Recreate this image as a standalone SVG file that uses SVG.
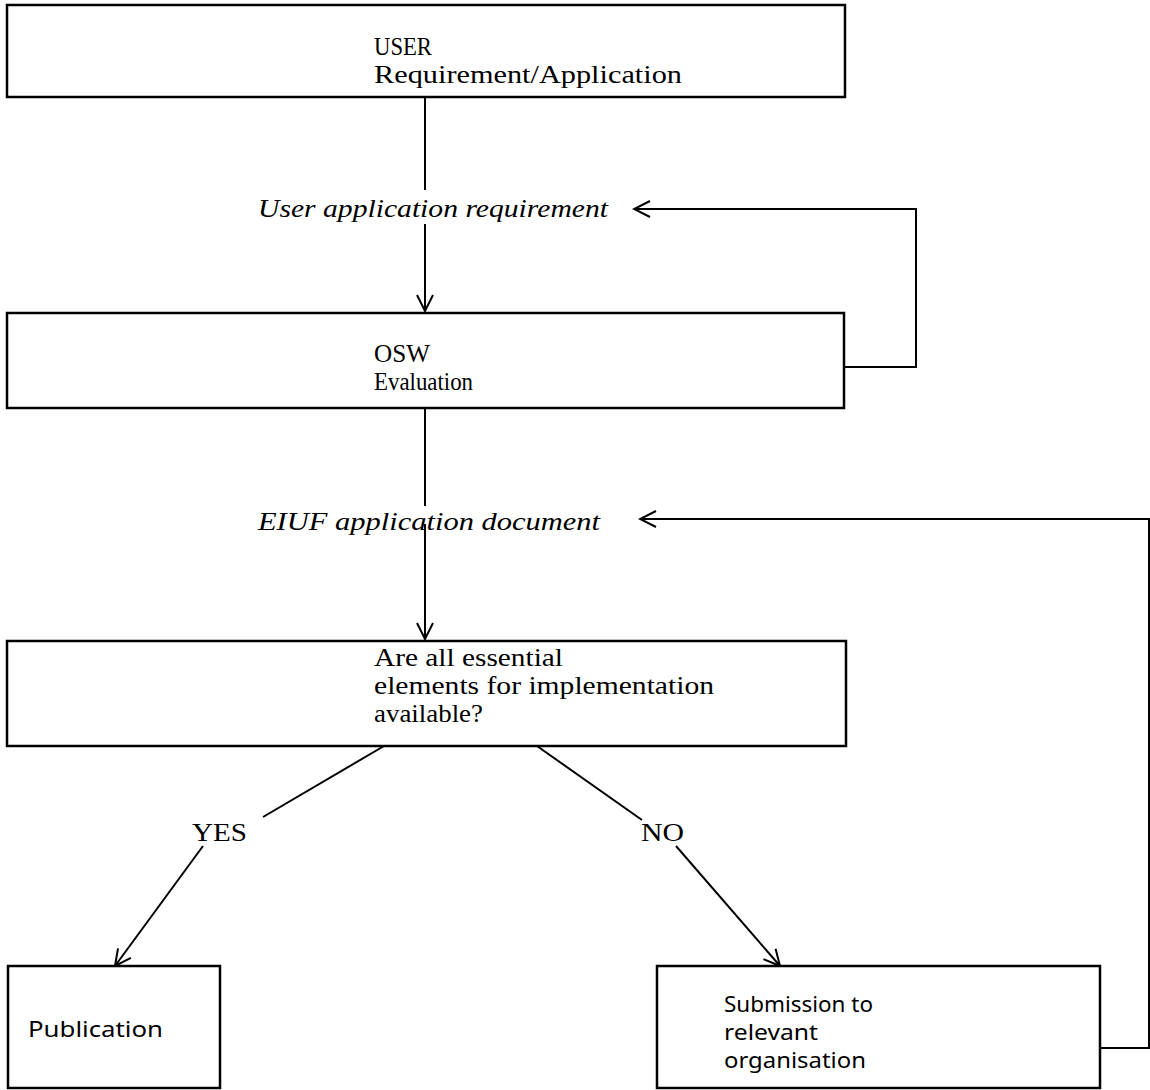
<svg xmlns="http://www.w3.org/2000/svg" width="1150" height="1090" viewBox="0 0 1150 1090">
<defs>
<style>
.box{fill:#fff;stroke:#000;stroke-width:2.5}
.ln{fill:none;stroke:#000;stroke-width:2}
.t{font-family:"Liberation Serif",serif;font-size:26px;fill:#000}
.s{font-family:"Noto Sans","Liberation Sans",sans-serif;font-size:22px;fill:#000}
.i{font-family:"Liberation Serif",serif;font-style:italic;font-size:26px;fill:#000}
</style>
<marker id="ah" viewBox="0 0 20 20" refX="18" refY="10" markerWidth="20" markerHeight="20" markerUnits="userSpaceOnUse" orient="auto">
<path d="M2,2 L18,10 L2,18" fill="none" stroke="#000" stroke-width="2"/>
</marker>
</defs>
<rect width="1150" height="1090" fill="#fff"/>
<g id="connectors">
<path class="ln" d="M425,97 V190"/>
<path class="ln" d="M425,224 V311" marker-end="url(#ah)"/>
<path class="ln" d="M844,367 H916 V209 H634" marker-end="url(#ah)"/>
<path class="ln" d="M425,408 V506"/>
<path class="ln" d="M425,524 V639" marker-end="url(#ah)"/>
<path class="ln" d="M1100,1048 H1149 V519 H640" marker-end="url(#ah)"/>
<path class="ln" d="M384,746 L263,817"/>
<path class="ln" d="M203,846 L115,966" marker-end="url(#ah)"/>
<path class="ln" d="M537,746 L642,820"/>
<path class="ln" d="M676,846 L780,966" marker-end="url(#ah)"/>
<text class="i" x="258" y="217" textLength="350" lengthAdjust="spacingAndGlyphs">User application requirement</text>
<text class="i" x="258" y="530" textLength="342" lengthAdjust="spacingAndGlyphs">EIUF application document</text>
<text class="t" x="192" y="841" textLength="55" lengthAdjust="spacingAndGlyphs">YES</text>
<text class="t" x="641" y="841" textLength="43" lengthAdjust="spacingAndGlyphs">NO</text>
</g>
<g id="user">
<rect class="box" x="7" y="5" width="838" height="92"/>
<text class="t" x="374" y="55" textLength="58" lengthAdjust="spacingAndGlyphs">USER</text>
<text class="t" x="374" y="83" textLength="308" lengthAdjust="spacingAndGlyphs">Requirement/Application</text>
</g>
<g id="osw">
<rect class="box" x="7" y="313" width="837" height="95"/>
<text class="t" x="374" y="362" textLength="56" lengthAdjust="spacingAndGlyphs">OSW</text>
<text class="t" x="374" y="390" textLength="99" lengthAdjust="spacingAndGlyphs">Evaluation</text>
</g>
<g id="decision">
<rect class="box" x="7" y="641" width="839" height="105"/>
<text class="t" x="374" y="666" textLength="189" lengthAdjust="spacingAndGlyphs">Are all essential</text>
<text class="t" x="374" y="694" textLength="340" lengthAdjust="spacingAndGlyphs">elements for implementation</text>
<text class="t" x="374" y="722" textLength="109" lengthAdjust="spacingAndGlyphs">available?</text>
</g>
<g id="publication">
<rect class="box" x="8" y="966" width="212" height="122"/>
<text class="s" x="28" y="1037" textLength="135" lengthAdjust="spacingAndGlyphs">Publication</text>
</g>
<g id="submission">
<rect class="box" x="657" y="966" width="443" height="122"/>
<text class="s" x="724" y="1012" textLength="149" lengthAdjust="spacingAndGlyphs">Submission to</text>
<text class="s" x="724" y="1040" textLength="94" lengthAdjust="spacingAndGlyphs">relevant</text>
<text class="s" x="724" y="1068" textLength="142" lengthAdjust="spacingAndGlyphs">organisation</text>
</g>
</svg>
